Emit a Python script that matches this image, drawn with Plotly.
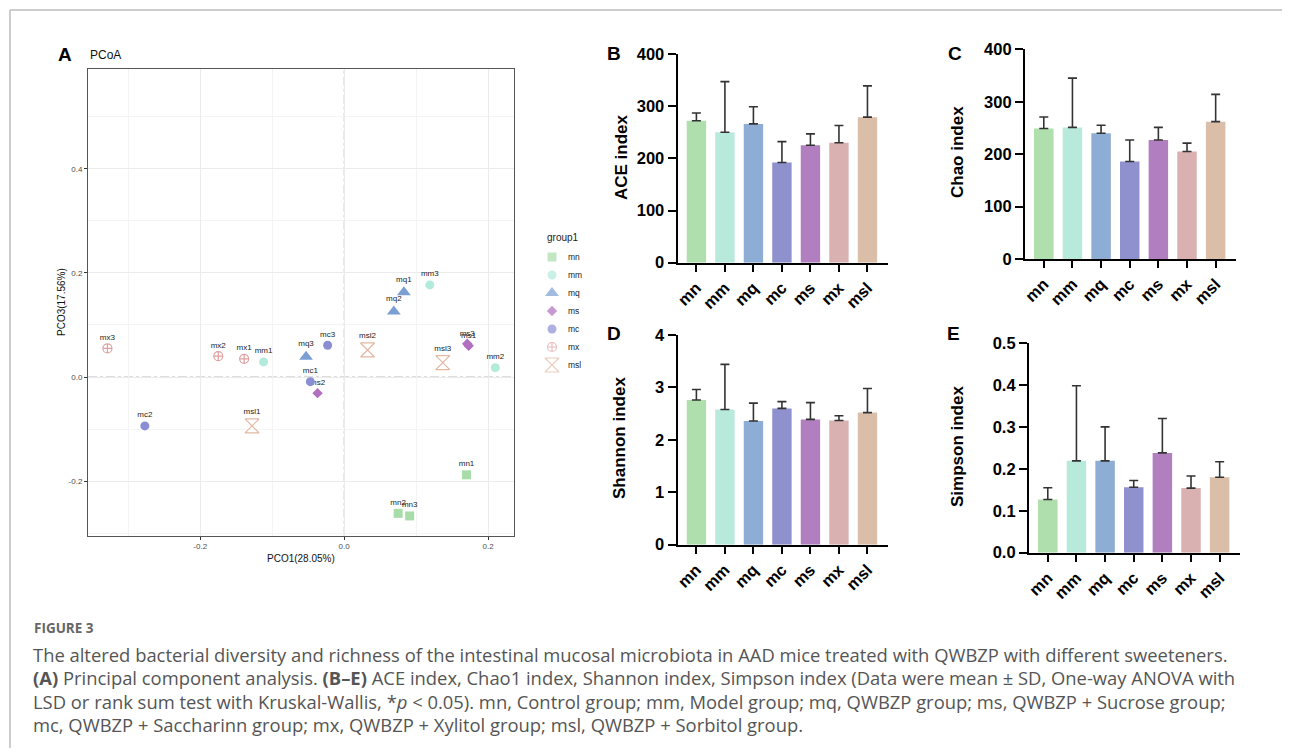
import plotly.graph_objects as go

# page body has an 8px margin: figure is sized so the page fits the 1290x756 window
OFF = 8
W, H = 1290 - 2 * OFF, 756 - 2 * OFF

# ---------------- data ----------------
groups = ["mn", "mm", "mq", "mc", "ms", "mx", "msl"]
bar_colors = ["#afdfac", "#b8eadb", "#8dadd4", "#8e91cd", "#b17fc0", "#dab1b1", "#dabea7"]

ace_mean = [272, 250, 266, 192, 225, 230, 279]
ace_sd = [15, 97, 33, 40, 22, 33, 60]
chao_mean = [249, 251, 240, 186, 227, 205, 262]
chao_sd = [22, 94, 15, 41, 24, 16, 52]
shannon_mean = [2.76, 2.58, 2.36, 2.60, 2.39, 2.37, 2.52]
shannon_sd = [0.20, 0.86, 0.34, 0.13, 0.32, 0.09, 0.46]
simpson_mean = [0.127, 0.219, 0.219, 0.156, 0.238, 0.154, 0.180]
simpson_sd = [0.028, 0.179, 0.081, 0.016, 0.082, 0.029, 0.037]

legend_groups = ["mn", "mm", "mq", "ms", "mc", "mx", "msl"]
pcoa_sample = ["mn1", "mn2", "mn3", "mm1", "mm2", "mm3", "mq1", "mq2", "mq3",
               "ms1", "ms2", "ms3", "mc1", "mc2", "mc3", "mx1", "mx2", "mx3",
               "msl1", "msl2", "msl3"]
pcoa_group = ["mn", "mn", "mn", "mm", "mm", "mm", "mq", "mq", "mq",
              "ms", "ms", "ms", "mc", "mc", "mc", "mx", "mx", "mx",
              "msl", "msl", "msl"]
pco1 = [0.170, 0.075, 0.091, -0.112, 0.210, 0.119, 0.083, 0.069, -0.053,
        0.173, -0.037, 0.171, -0.047, -0.277, -0.023, -0.139, -0.175, -0.329,
        -0.128, 0.0325, 0.137]
pco3 = [-0.188, -0.262, -0.267, 0.029, 0.018, 0.177, 0.163, 0.126, 0.039,
        0.060, -0.031, 0.064, -0.009, -0.094, 0.061, 0.035, 0.040, 0.055,
        -0.094, 0.052, 0.0275]

pcoa_colors = {"mn": "#a8dca8", "mm": "#b2eadb", "mq": "#7b9fd3", "ms": "#b06fc0",
               "mc": "#8a8fd4", "mx": "#e0a0a0", "msl": "#e2b8a0"}
pcoa_symbols = {"mn": "square", "mm": "circle", "mq": "triangle-up", "ms": "diamond",
                "mc": "circle", "mx": "circle-cross-open", "msl": "hourglass-open"}
pcoa_sizes = {"mn": 9, "mm": 9, "mq": 12, "ms": 8, "mc": 9, "mx": 9, "msl": 14}

pcoa_xticks = [-0.2, 0.0, 0.2]
pcoa_xticktext = ["-0.2", "0.0", "0.2"]
pcoa_yticks = [-0.2, 0.0, 0.2, 0.4]
pcoa_yticktext = ["-0.2", "0.0", "0.2", "0.4"]


def px(x):
    return (x - OFF) / W


def py(y):
    return 1 - (y - OFF) / H


fig = go.Figure()

# ---------------- PCoA ----------------
for g in legend_groups:
    idx = [i for i, gg in enumerate(pcoa_group) if gg == g]
    open_sym = pcoa_symbols[g].endswith("open")
    fig.add_trace(go.Scatter(
        x=[pco1[i] for i in idx], y=[pco3[i] for i in idx],
        text=[pcoa_sample[i] for i in idx],
        mode="markers+text", textposition="top center",
        textfont=dict(family="Liberation Sans, Arial", size=8, color="#222"),
        marker=dict(symbol=pcoa_symbols[g], size=pcoa_sizes[g], color=pcoa_colors[g],
                    line=dict(width=1.2 if open_sym else 0, color=pcoa_colors[g])),
        name=g, xaxis="x", yaxis="y", showlegend=False, cliponaxis=False,
    ))

# manual legend (group1) on its own hidden axes
leg_pos = list(range(len(legend_groups)))
fig.add_trace(go.Scatter(
    x=[1.0] * len(legend_groups), y=leg_pos, mode="markers",
    marker=dict(symbol=[pcoa_symbols[g] for g in legend_groups],
                size=[pcoa_sizes[g] for g in legend_groups],
                color=[pcoa_colors[g] for g in legend_groups],
                line=dict(width=[1.2 if pcoa_symbols[g].endswith("open") else 0 for g in legend_groups],
                          color=[pcoa_colors[g] for g in legend_groups])),
    xaxis="x6", yaxis="y6", showlegend=False, cliponaxis=False, hoverinfo="skip",
))

# ---------------- bar panels ----------------
bar_sets = [
    (ace_mean, ace_sd, "x2", "y2"),
    (chao_mean, chao_sd, "x3", "y3"),
    (shannon_mean, shannon_sd, "x4", "y4"),
    (simpson_mean, simpson_sd, "x5", "y5"),
]
for mean, sd, xa, ya in bar_sets:
    fig.add_trace(go.Bar(
        x=groups, y=mean, marker=dict(color=bar_colors, line=dict(width=0)),
        error_y=dict(type="data", array=sd, arrayminus=[0] * len(sd), symmetric=False,
                     color="#333333", thickness=1.6, width=4.5),
        xaxis=xa, yaxis=ya, showlegend=False, width=0.68,
    ))

layout = dict(
    template="none",
    width=W, height=H, margin=dict(l=0, r=0, t=0, b=0, pad=0, autoexpand=False),
    paper_bgcolor="white", plot_bgcolor="white",
    font=dict(family="Liberation Sans, Arial", color="#000"),
    bargap=0.32, showlegend=False,
    xaxis=dict(domain=[px(88), px(514)], range=[-0.356, 0.236], anchor="y", automargin=False,
               tickvals=pcoa_xticks, ticktext=pcoa_xticktext,
               tickfont=dict(size=8, color="#4d4d4d"),
               ticks="outside", ticklen=3, tickcolor="#333", tickwidth=0.8,
               showgrid=True, gridcolor="#ebebeb", gridwidth=1,
               minor=dict(dtick=0.1, tick0=0.1, showgrid=True, gridcolor="#f4f4f4", gridwidth=0.6, ticks=""),
               showline=True, mirror=True, linecolor="#555", linewidth=1, zeroline=False),
    yaxis=dict(domain=[py(535.7), py(69)], range=[-0.305, 0.592], anchor="x", automargin=False,
               tickvals=pcoa_yticks, ticktext=pcoa_yticktext,
               tickfont=dict(size=8, color="#4d4d4d"),
               ticks="outside", ticklen=3, tickcolor="#333", tickwidth=0.8,
               showgrid=True, gridcolor="#ebebeb", gridwidth=1,
               minor=dict(dtick=0.1, tick0=0.1, showgrid=True, gridcolor="#f4f4f4", gridwidth=0.6, ticks=""),
               showline=True, mirror=True, linecolor="#555", linewidth=1, zeroline=False),
    xaxis6=dict(domain=[px(542), px(602)], range=[0, 6], anchor="y6", visible=False,
                automargin=False, fixedrange=True),
    yaxis6=dict(domain=[py(374), py(248)], range=[len(legend_groups) - 0.5, -0.5], anchor="x6",
                visible=False, automargin=False, fixedrange=True),
)

bar_axes = [
    ("xaxis2", "yaxis2", (677.7, 887.7), (262.7, 54), [0, 400], 100, None),
    ("xaxis3", "yaxis3", (1025, 1236), (259, 49.3), [0, 400], 100, None),
    ("xaxis4", "yaxis4", (677.7, 887.7), (544.7, 335), [0, 4], 1, None),
    ("xaxis5", "yaxis5", (1029, 1240), (552.7, 343), [0, 0.5], 0.1, ".1f"),
]
for i, (xk, yk, (xl, xr), (yb, yt), yr, dt, fmt) in enumerate(bar_axes):
    n = i + 2
    layout[xk] = dict(domain=[px(xl), px(xr)], anchor=f"y{n}", type="category",
                      range=[-0.656, 6.71], tickangle=-45, automargin=False,
                      tickfont=dict(size=16.5, weight="bold", color="#000"),
                      ticks="outside", ticklen=7, tickwidth=2, tickcolor="#000",
                      showline=True, linecolor="#000", linewidth=2.2,
                      showgrid=False, zeroline=False)
    ydict = dict(domain=[py(yb), py(yt)], anchor=f"x{n}", range=yr, dtick=dt, tick0=0,
                 automargin=False,
                 tickfont=dict(size=16.5, weight="bold", color="#000"),
                 ticks="outside", ticklen=8, tickwidth=2, tickcolor="#000",
                 showline=True, linecolor="#000", linewidth=2.2,
                 showgrid=False, zeroline=False)
    if fmt:
        ydict["tickformat"] = fmt
    layout[yk] = ydict

fig.update_layout(**layout)

# reference dashed lines at origin of PCoA
fig.add_shape(type="line", xref="x", yref="y domain", x0=0, x1=0, y0=0, y1=1,
              line=dict(color="#bbbbbb", width=1, dash="dashdot"), layer="below")
fig.add_shape(type="line", xref="x domain", yref="y", x0=0, x1=1, y0=0, y1=0,
              line=dict(color="#bbbbbb", width=1, dash="dashdot"), layer="below")

# figure frame (top and left)
fig.add_shape(type="line", xref="paper", yref="paper", x0=px(10), x1=1, y0=py(10), y1=py(10),
              line=dict(color="#bdbdbd", width=1.5))
fig.add_shape(type="line", xref="paper", yref="paper", x0=px(10), x1=px(10), y0=py(10), y1=0,
              line=dict(color="#bdbdbd", width=1.5))

ann = []


def add_text(x, y, text, size, color="#000", bold=False, angle=0, xanchor="center",
             family="Liberation Sans, Arial"):
    ann.append(dict(x=px(x), y=py(y), xref="paper", yref="paper", text=text,
                    showarrow=False, xanchor=xanchor, yanchor="middle", textangle=angle,
                    font=dict(size=size, color=color, family=family,
                              weight="bold" if bold else "normal")))


# panel letters
add_text(65, 54, "A", 19, bold=True)
add_text(88, 55, "PCoA", 12, color="#111", xanchor="left")
add_text(614, 53, "B", 19, bold=True)
add_text(955, 53, "C", 19, bold=True)
add_text(614, 333, "D", 19, bold=True)
add_text(953, 333, "E", 19, bold=True)

# PCoA axis titles
add_text(301, 558, "PCO1(28.05%)", 10, color="#111")
add_text(62, 302, "PCO3(17.56%)", 10, color="#111", angle=-90)

# legend title and labels
add_text(545, 238, "group1", 10, color="#222", xanchor="left")
for k, g in enumerate(legend_groups):
    ann.append(dict(x=2.4, y=leg_pos[k], xref="x6", yref="y6", text=g, showarrow=False,
                    xanchor="left", yanchor="middle",
                    font=dict(size=8.5, color="#222", family="Liberation Sans, Arial")))

# bar y titles
add_text(621, 157, "ACE index", 17, bold=True, angle=-90)
add_text(957, 152, "Chao index", 17, bold=True, angle=-90)
add_text(620, 438, "Shannon index", 17, bold=True, angle=-90)
add_text(957, 447, "Simpson index", 17, bold=True, angle=-90)

# caption
cap_font = "Open Sans, Lato, sans-serif"
add_text(32, 628, "FIGURE 3", 13.5, color="#666", bold=True, xanchor="left", family=cap_font)
cap_lines = [
    "The altered bacterial diversity and richness of the intestinal mucosal microbiota in AAD mice treated with QWBZP with different sweeteners.",
    "<b>(A)</b> Principal component analysis. <b>(B–E)</b> ACE index, Chao1 index, Shannon index, Simpson index (Data were mean ± SD, One-way ANOVA with",
    "LSD or rank sum test with Kruskal-Wallis, *<i>p</i> &lt; 0.05). mn, Control group; mm, Model group; mq, QWBZP group; ms, QWBZP + Sucrose group;",
    "mc, QWBZP + Saccharinn group; mx, QWBZP + Xylitol group; msl, QWBZP + Sorbitol group.",
]
for k, line in enumerate(cap_lines):
    add_text(31, 654 + k * 23.6, line, 18.4, color="#555", xanchor="left", family=cap_font)

fig.update_layout(annotations=ann)

fig.write_html("out.html")
